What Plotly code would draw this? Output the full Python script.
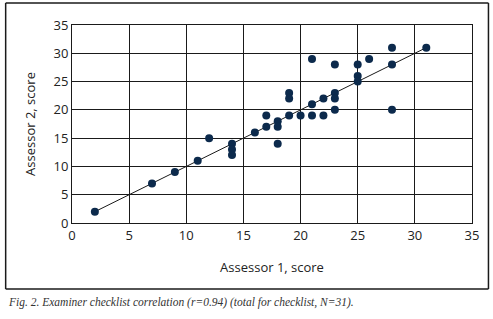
import plotly.graph_objects as go

assessor1 = [2, 7, 9, 11, 12, 14, 14, 14, 16, 17, 17, 18, 18, 18, 19, 19, 19, 20,
             21, 21, 21, 22, 22, 23, 23, 23, 23, 25, 25, 25, 26, 28, 28, 28, 31]
assessor2 = [2, 7, 9, 11, 15, 14, 13, 12, 16, 19, 17, 18, 17, 14, 23, 22, 19, 19,
             29, 21, 19, 22, 19, 28, 23, 22, 20, 28, 26, 25, 29, 31, 28, 20, 31]
trend_x = [2, 31]
trend_y = [2, 31]
tick_vals = [0, 5, 10, 15, 20, 25, 30, 35]

W, H = 493, 319
L, R, T, B = 71.5, 472.5, 25, 223

fig = go.Figure()
fig.add_trace(go.Scatter(x=trend_x, y=trend_y, mode="lines",
                         line=dict(color="#1a1a1a", width=1), hoverinfo="skip"))
fig.add_trace(go.Scatter(x=assessor1, y=assessor2, mode="markers",
                         marker=dict(color="#0c2a4c", size=8)))

def px_x(p):
    return (p - L) / (R - L)

def px_y(p):
    return (B - p) / (B - T)

axis_common = dict(range=[0, 35], tickvals=tick_vals, showgrid=True,
                   gridcolor="#1a1a1a", gridwidth=1, zeroline=False,
                   showline=True, linecolor="#1a1a1a", linewidth=1, mirror=True,
                   ticks="", tickfont=dict(family="Open Sans", size=13, color="#222"),
                   fixedrange=True, automargin=False)

fx0, fx1, fy0, fy1 = px_x(5), px_x(489), px_y(289), px_y(3)
frame_lines = [
    (fx0, fy0, fx1, fy0), (fx0, fy1, fx1, fy1),
    (fx0, fy0, fx0, fy1), (fx1, fy0, fx1, fy1),
]

fig.update_layout(
    width=W, height=H,
    margin=dict(l=L, r=W - R, t=T, b=H - B, autoexpand=False),
    paper_bgcolor="white", plot_bgcolor="white",
    showlegend=False,
    xaxis=dict(**axis_common, title=dict(text="Assessor 1, score", standoff=20,
               font=dict(family="Open Sans", size=13, color="#222"))),
    yaxis=dict(**axis_common, title=dict(text="Assessor 2, score", standoff=14,
               font=dict(family="Open Sans", size=13, color="#222"))),
    shapes=[dict(type="line", xref="paper", yref="paper",
                 x0=a, y0=b, x1=c, y1=d,
                 line=dict(color="#1a1a1a", width=1.5), layer="above")
            for a, b, c, d in frame_lines],
    annotations=[dict(text="<i>Fig. 2. Examiner checklist correlation (r=0.94) (total for checklist, N=31).</i>",
                      xref="paper", yref="paper", x=px_x(5), y=px_y(302),
                      xanchor="left", yanchor="middle", showarrow=False,
                      font=dict(family="Liberation Serif", size=11.5, color="#333"))],
)
fig.write_html("out.html", config={"displayModeBar": False},
               post_script="document.body.style.margin='0';")
